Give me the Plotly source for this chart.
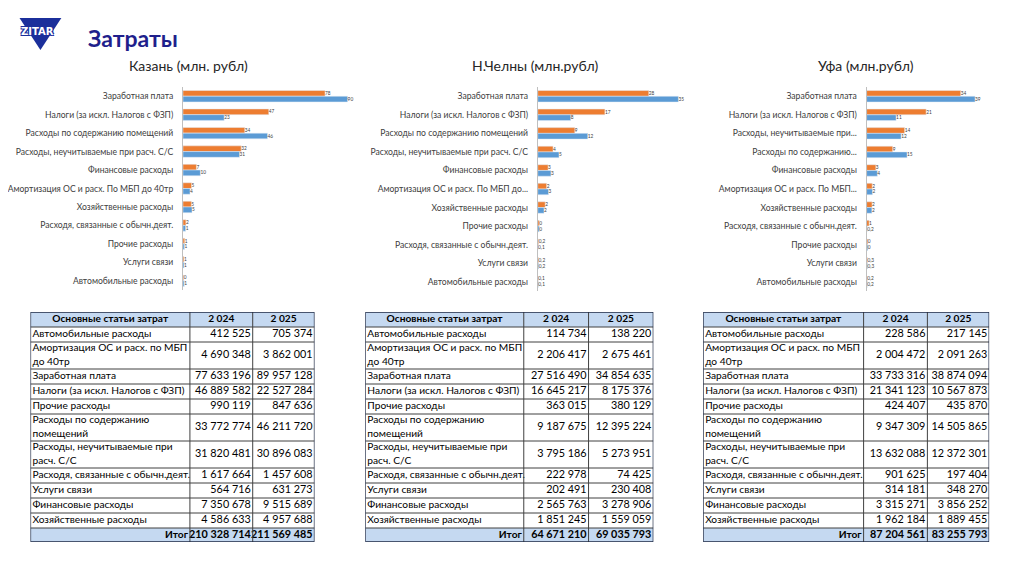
import plotly.graph_objects as go

# page body has an 8px margin, so the figure is sized to fit inside the window;
# horizontal placement calibrated against the rendered page
OFF = 8
FW, FH = 1024 - 2 * OFF, 574 - 2 * OFF
X0, XS = 19.5, 0.9895


def fx(x):
    return ((x - X0) / XS) / FW


def fy(y):
    return 1 - (y - OFF) / FH


# ---------------- DATA ----------------
row_names = [
    "Автомобильные расходы",
    "Амортизация ОС и расх. по МБП<br>до 40тр",
    "Заработная плата",
    "Налоги (за искл. Налогов с ФЗП)",
    "Прочие расходы",
    "Расходы по содержанию<br>помещений",
    "Расходы, неучитываемые при<br>расч. С/С",
    "Расходя, связанные с обычн.деят.",
    "Услуги связи",
    "Финансовые расходы",
    "Хозяйственные расходы",
]
table_header = ["Основные статьи затрат", "2 024", "2 025"]
total_label = "Итог"

kazan_2024 = [412525, 4690348, 77633196, 46889582, 990119, 33772774, 31820481, 1617664, 564716, 7350678, 4586633]
kazan_2025 = [705374, 3862001, 89957128, 22527284, 847636, 46211720, 30896083, 1457608, 631273, 9515689, 4957688]
kazan_total = [210328714, 211569485]

chelny_2024 = [114734, 2206417, 27516490, 16645217, 363015, 9187675, 3795186, 222978, 202491, 2565763, 1851245]
chelny_2025 = [138220, 2675461, 34854635, 8175376, 380129, 12395224, 5273951, 74425, 230408, 3278906, 1559059]
chelny_total = [64671210, 69035793]

ufa_2024 = [228586, 2004472, 33733316, 21341123, 424407, 9347309, 13632088, 901625, 314181, 3315271, 1962184]
ufa_2025 = [217145, 2091263, 38874094, 10567873, 435870, 14505865, 12372301, 197404, 348270, 3856252, 1889455]
ufa_total = [87204561, 83255793]

# chart order (indices into table rows), category labels and data labels
kazan_order = [2, 3, 5, 6, 9, 1, 10, 7, 4, 8, 0]
kazan_cats = ["Заработная плата", "Налоги (за искл. Налогов с ФЗП)", "Расходы по содержанию помещений",
              "Расходы, неучитываемые при расч. С/С", "Финансовые расходы",
              "Амортизация ОС и расх. По МБП до 40тр", "Хозяйственные расходы",
              "Расходя, связанные с обычн.деят.", "Прочие расходы", "Услуги связи", "Автомобильные расходы"]
kazan_txt24 = ["78", "47", "34", "32", "7", "5", "5", "2", "1", "1", "0"]
kazan_txt25 = ["90", "23", "46", "31", "10", "4", "5", "1", "1", "1", "1"]

chelny_order = [2, 3, 5, 6, 9, 1, 10, 4, 7, 8, 0]
chelny_cats = ["Заработная плата", "Налоги (за искл. Налогов с ФЗП)", "Расходы по содержанию помещений",
               "Расходы, неучитываемые при расч. С/С", "Финансовые расходы",
               "Амортизация ОС и расх. По МБП до...", "Хозяйственные расходы", "Прочие расходы",
               "Расходя, связанные с обычн.деят.", "Услуги связи", "Автомобильные расходы"]
chelny_txt24 = ["28", "17", "9", "4", "3", "2", "2", "0", "0,2", "0,2", "0,1"]
chelny_txt25 = ["35", "8", "12", "5", "3", "3", "2", "0", "0,1", "0,2", "0,1"]

ufa_order = [2, 3, 6, 5, 9, 1, 10, 7, 4, 8, 0]
ufa_cats = ["Заработная плата", "Налоги (за искл. Налогов с ФЗП)", "Расходы, неучитываемые при...",
            "Расходы по содержанию...", "Финансовые расходы", "Амортизация ОС и расх. По МБП...",
            "Хозяйственные расходы", "Расходя, связанные с обычн.деят.", "Прочие расходы",
            "Услуги связи", "Автомобильные расходы"]
ufa_txt24 = ["34", "21", "14", "9", "3", "2", "2", "1", "0", "0,3", "0,2"]
ufa_txt25 = ["39", "11", "12", "15", "4", "2", "2", "0,2", "0", "0,3", "0,2"]

chart_titles = ["Казань (млн. рубл)", "Н.Челны (млн.рубл)", "Уфа (млн.рубл)"]
series_names = ["2 024", "2 025"]

# ---------------- STYLE ----------------
ORANGE = "#ED7D31"
BLUE = "#5B9BD5"
HDR = "#C5D9F1"
GRID = "#404040"
OUTER = "#1F2A44"
TXT = "#404040"
LOGO = "#1B2F9B"
FONT = "Lato"
NB = "\u00a0"
NAME_FONT, NUM_FONT = 10.2, 10.8
HDR_H, ROW_H, DBL_H, TOT_H = 15, 15, 27, 14
TABLE_TOP = 312


def fmt(v):
    return f"{v:,}".replace(",", NB)


fig = go.Figure()
shapes = []
layout_axes = {}

# ---------------- BAR CHARTS ----------------
charts = [
    (kazan_2024, kazan_2025, kazan_order, kazan_cats, kazan_txt24, kazan_txt25, (181, 361), 98, (87, 290)),
    (chelny_2024, chelny_2025, chelny_order, chelny_cats, chelny_txt24, chelny_txt25, (537, 699), 40, (87, 291)),
    (ufa_2024, ufa_2025, ufa_order, ufa_cats, ufa_txt24, ufa_txt25, (867, 993), 45, (87, 291)),
]
for k, (v24, v25, order, cats, t24, t25, xd, xr, yd) in enumerate(charts):
    n = "" if k == 0 else str(k + 1)
    xa, ya = "x" + n, "y" + n
    for vals, txt, col, nm in ((v24, t24, ORANGE, series_names[0]), (v25, t25, BLUE, series_names[1])):
        fig.add_trace(go.Bar(
            y=cats, x=[vals[i] / 1e6 for i in order], orientation="h", name=nm,
            marker_color=col, text=txt, textposition="outside", cliponaxis=False,
            textfont=dict(size=7.5, color=TXT, family=FONT), xaxis=xa, yaxis=ya,
            showlegend=False, hoverinfo="skip"))
    layout_axes["xaxis" + n] = dict(domain=[fx(xd[0]), fx(xd[1])], range=[0, xr], visible=False,
                                    anchor=ya, fixedrange=True)
    layout_axes["yaxis" + n] = dict(domain=[fy(yd[1]), fy(yd[0])], autorange="reversed",
                                    anchor=xa, showline=True, linecolor="#BFBFBF", linewidth=1,
                                    ticks="", ticklabelstandoff=7, showgrid=False, fixedrange=True,
                                    tickfont=dict(size=8.6, color=TXT, family=FONT))

# ---------------- TABLES ----------------
tables = [
    (kazan_2024, kazan_2025, kazan_total, [28, 188, 251, 313]),
    (chelny_2024, chelny_2025, chelny_total, [364, 523, 588, 653]),
    (ufa_2024, ufa_2025, ufa_total, [703, 864, 928, 990]),
]
for t, (v24, v25, tot, cols) in enumerate(tables):
    n = str(4 + t)
    xa, ya = "x" + n, "y" + n
    heights = [HDR_H] + [DBL_H if "<br>" in nm else ROW_H for nm in row_names] + [TOT_H]
    edges = [TABLE_TOP]
    for h in heights:
        edges.append(edges[-1] + h)
    centers = [(a + b) / 2 for a, b in zip(edges[:-1], edges[1:])]
    bottom = edges[-1]
    layout_axes["xaxis" + n] = dict(domain=[fx(cols[0]), fx(cols[3])], range=[cols[0], cols[3]],
                                    visible=False, anchor=ya, fixedrange=True)
    layout_axes["yaxis" + n] = dict(domain=[fy(bottom), fy(TABLE_TOP)], range=[bottom, TABLE_TOP],
                                    visible=False, anchor=xa, fixedrange=True)

    # fills
    for r in (0, len(heights) - 1):
        shapes.append(dict(type="rect", xref=xa, yref=ya, x0=cols[0], x1=cols[3],
                           y0=edges[r], y1=edges[r + 1], fillcolor=HDR, line=dict(width=0), layer="below"))
    # grid lines
    for e in edges[1:-1]:
        shapes.append(dict(type="line", xref=xa, yref=ya, x0=cols[0], x1=cols[3], y0=e, y1=e,
                           line=dict(color=GRID, width=1)))
    for c in cols[1:-1]:
        shapes.append(dict(type="line", xref=xa, yref=ya, x0=c, x1=c, y0=TABLE_TOP, y1=bottom,
                           line=dict(color=GRID, width=1)))
    shapes.append(dict(type="rect", xref=xa, yref=ya, x0=cols[0], x1=cols[3], y0=TABLE_TOP, y1=bottom,
                       line=dict(color=OUTER, width=1.3)))

    # texts
    tx, ty, tt, tp, ts = [], [], [], [], []
    for j, h in enumerate(table_header):
        tx.append((cols[j] + cols[j + 1]) / 2); ty.append(centers[0])
        tt.append(f"<b>{h.replace(' ', NB)}</b>"); tp.append("middle center"); ts.append(NAME_FONT)
    for i, nm in enumerate(row_names):
        yc = centers[1 + i]
        tx += [cols[0] + 2, cols[2] - 2, cols[3] - 2]
        ty += [yc] * 3
        tt += [nm.replace(" ", NB), fmt(v24[i]), fmt(v25[i])]
        tp += ["middle right", "middle left", "middle left"]
        ts += [NAME_FONT, NUM_FONT, NUM_FONT]
    yc = centers[-1]
    tx += [cols[1] - 2, cols[2] - 2, cols[3] - 2]
    ty += [yc] * 3
    tt += [f"<b>{total_label}</b>", f"<b>{fmt(tot[0])}</b>", f"<b>{fmt(tot[1])}</b>"]
    tp += ["middle left", "middle left", "middle left"]
    ts += [NAME_FONT, NUM_FONT, NUM_FONT]
    fig.add_trace(go.Scatter(x=tx, y=ty, text=tt, mode="text", textposition=tp, xaxis=xa, yaxis=ya,
                             textfont=dict(size=ts, color="black", family=FONT),
                             cliponaxis=False, showlegend=False, hoverinfo="skip"))

# ---------------- ANNOTATIONS ----------------
outline = ", ".join(f"{dx}px {dy}px 0 {LOGO}" for dx, dy in ((1, 1), (-1, -1), (1, -1), (-1, 1)))
ann = [
    dict(text="<b>Затраты</b>", x=fx(84), y=fy(38), xanchor="left", yanchor="middle",
         font=dict(size=23, color="#1F1F8C", family=FONT)),
    dict(text="<b>ZITAR</b>", x=fx(35), y=fy(31), xanchor="center", yanchor="middle",
         font=dict(size=10, color="white", family="DejaVu Sans", shadow=outline)),
]
for title, cx in zip(chart_titles, [187, 535, 866]):
    ann.append(dict(text=title, x=fx(cx), y=fy(66), xanchor="center", yanchor="middle",
                    font=dict(size=14, color="#262626", family=FONT)))
for a in ann:
    a.update(xref="paper", yref="paper", showarrow=False)

shapes.append(dict(type="path", xref="paper", yref="paper",
                   path=f"M {fx(17)},{fy(18)} L {fx(59)},{fy(18)} L {fx(38)},{fy(50)} Z",
                   fillcolor=LOGO, line=dict(width=0), layer="below"))

fig.update_layout(
    width=FW, height=FH, margin=dict(l=0, r=0, t=0, b=0),
    paper_bgcolor="white", plot_bgcolor="rgba(0,0,0,0)",
    barmode="group", bargap=0.38, bargroupgap=0,
    annotations=ann, shapes=shapes, showlegend=False,
    font=dict(family=FONT),
    **layout_axes,
)

fig.write_html("out.html")
